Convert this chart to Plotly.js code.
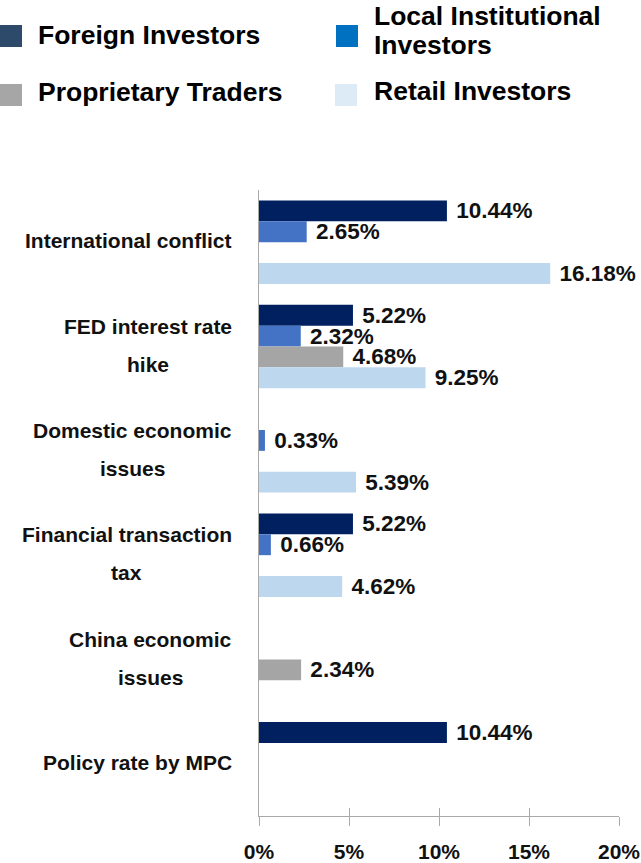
<!DOCTYPE html>
<html>
<head>
<meta charset="utf-8">
<script src="https://cdn.plot.ly/plotly-3.0.1.min.js"></script>
<style>
html,body{margin:0;padding:0;background:#fff;}
#chart{width:641px;height:863px;}
</style>
</head>
<body>
<div id="chart"></div>
<script>
// ---- data ----
const categories = ['International conflict', 'FED interest rate<br>hike', 'Domestic economic<br>issues', 'Financial transaction<br>tax', 'China economic<br>issues', 'Policy rate by MPC'];
const foreignInvestors = [10.44, 5.22, null, 5.22, null, 10.44];
const localInstitutional = [2.65, 2.32, 0.33, 0.66, null, null];
const proprietaryTraders = [null, 4.68, null, null, 2.34, null];
const retailInvestors = [16.18, 9.25, 5.39, 4.62, null, null];
const seriesNames = ['Foreign Investors', 'Local Institutional<br>Investors', 'Proprietary Traders', 'Retail Investors'];
const xTickVals = [0, 5, 10, 15, 20];
const xTickText = ['0%', '5%', '10%', '15%', '20%'];

// ---- styles ----
const barColors = ['#002060', '#4472C4', '#A5A5A5', '#BDD7EE'];
const legendColors = ['#2E4A6B', '#0070C0', '#A6A6A6', '#DDEBF7'];
const FONT = 'Liberation Sans, Arial, Helvetica, sans-serif';
const L = 259, T = 190, W = 360, H = 626;
const px2x = p => (p - L) / W;
const px2y = p => 1 - (p - T) / H;

const seriesValues = [foreignInvestors, localInstitutional, proprietaryTraders, retailInvestors];
const traces = seriesValues.map((vals, i) => ({
  type: 'bar',
  orientation: 'h',
  name: seriesNames[i],
  y: categories,
  x: vals,
  marker: {color: barColors[i]},
  texttemplate: '\u00a0%{x:.2f}%',
  textposition: 'outside',
  constraintext: 'none',
  cliponaxis: false,
  textfont: {family: FONT, size: 22.5, color: '#111', weight: 'bold'},
  hoverinfo: 'skip'
}));
traces.push({type: 'scatter', x: [], y: [], xaxis: 'x2', yaxis: 'y', showlegend: false});

// ---- category labels as annotations (wide line spacing) ----
const canvas = document.createElement('canvas');
const ctx = canvas.getContext('2d');
const catFontSize = 21;
ctx.font = 'bold ' + catFontSize + 'px "Liberation Sans", Arial, sans-serif';
const annotations = [];
const labelRight = 232;
const lineGap = 38;
categories.forEach(cat => {
  const lines = cat.split('<br>');
  const maxW = Math.max(...lines.map(s => ctx.measureText(s).width));
  const cx = labelRight - maxW / 2;
  lines.forEach((ln, j) => {
    annotations.push({
      xref: 'paper', yref: 'y', x: px2x(cx), y: cat,
      xanchor: 'center', yanchor: 'middle',
      yshift: ((lines.length - 1) / 2 - j) * lineGap + 1.5,
      text: ln, showarrow: false,
      font: {family: FONT, size: catFontSize, color: '#111', weight: 'bold'}
    });
  });
});

// ---- custom legend ----
const legendPos = [
  {sx: 0, sy: 25, tx: 36, ty: 35},
  {sx: 336, sy: 25, tx: 372, ty: 30.5},
  {sx: 0, sy: 84, tx: 36, ty: 92},
  {sx: 335, sy: 84, tx: 372, ty: 91}
];
const shapes = [];
const legendSize = 22;
const legendLineGap = 29;
seriesNames.forEach((nm, i) => {
  const p = legendPos[i];
  shapes.push({type: 'rect', xref: 'paper', yref: 'paper',
    x0: px2x(p.sx), x1: px2x(p.sx + legendSize),
    y0: px2y(p.sy + legendSize), y1: px2y(p.sy),
    fillcolor: legendColors[i], line: {width: 0}});
  const lines = nm.split('<br>');
  lines.forEach((ln, j) => {
    const yc = p.ty + (j - (lines.length - 1) / 2) * legendLineGap;
    annotations.push({
      xref: 'paper', yref: 'paper', x: px2x(p.tx), y: px2y(yc),
      xanchor: 'left', yanchor: 'middle', text: ln, showarrow: false,
      font: {family: FONT, size: 26.5, color: '#000', weight: 'bold'}
    });
  });
});

const layout = {
  width: 641, height: 863,
  margin: {l: L, r: 641 - L - W, t: T, b: 863 - T - H, pad: 0},
  paper_bgcolor: '#fff', plot_bgcolor: '#fff',
  barmode: 'group', bargap: 0.2, bargroupgap: 0,
  showlegend: false,
  xaxis: {
    range: [0, 20], tickvals: xTickVals, ticktext: xTickText,
    ticks: 'outside', ticklen: 9, tickwidth: 1, tickcolor: '#A9A9A9',
    showline: true, linecolor: '#A9A9A9', linewidth: 1,
    showgrid: false, zeroline: false, ticklabelstandoff: 8,
    tickfont: {family: FONT, size: 21, color: '#111', weight: 'bold'},
    fixedrange: true
  },
  xaxis2: {
    overlaying: 'x', anchor: 'y', range: [0, 20], tickvals: xTickVals,
    ticks: 'inside', ticklen: 8, tickwidth: 1, tickcolor: '#A9A9A9',
    showticklabels: false, showline: false, showgrid: false, zeroline: false
  },
  yaxis: {
    type: 'category', categoryarray: categories, categoryorder: 'array',
    autorange: 'reversed', showticklabels: false, ticks: '',
    showline: true, linecolor: '#A9A9A9', linewidth: 1,
    showgrid: false, zeroline: false, fixedrange: true
  },
  annotations: annotations,
  shapes: shapes
};

Plotly.newPlot('chart', traces, layout, {displayModeBar: false, staticPlot: true});
</script>
</body>
</html>
